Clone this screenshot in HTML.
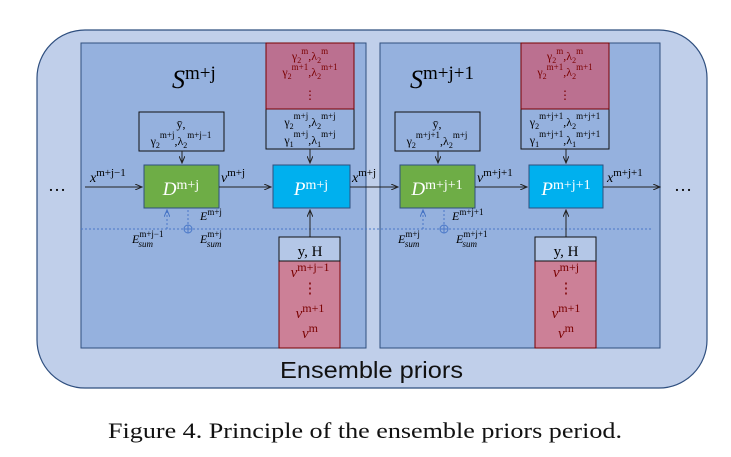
<!DOCTYPE html>
<html><head><meta charset="utf-8"><style>
body{margin:0;background:#fff;width:731px;height:457px;overflow:hidden}
svg{display:block;font-family:"Liberation Serif",serif}
.s{font-size:9px}.b{font-size:8px}
</style></head><body>
<svg width="731" height="457" viewBox="0 0 731 457">
<defs><marker id="a" markerWidth="8" markerHeight="6" refX="7" refY="3" orient="auto"><path d="M0,0 L7,3 L0,6" fill="none" stroke="#222" stroke-width="1"/></marker>
<marker id="b" markerWidth="8" markerHeight="6" refX="7" refY="3" orient="auto"><path d="M0,0 L7,3 L0,6" fill="none" stroke="#4472c4" stroke-width="1"/></marker></defs>
<rect x="37" y="30" width="670" height="358" rx="48" fill="#c0cfea" stroke="#2f4f7f" stroke-width="1.2"/>
<text x="280" y="378" font-family="Liberation Sans" font-size="23" textLength="183" lengthAdjust="spacingAndGlyphs" fill="#111">Ensemble priors</text>
<text x="108" y="438" font-size="22" textLength="514" lengthAdjust="spacingAndGlyphs" fill="#111">Figure 4. Principle of the ensemble priors period.</text>

<rect x="81" y="43" width="285" height="305" fill="#95b1de" stroke="#2f4f7f"/>
<rect x="380" y="43" width="280" height="305" fill="#95b1de" stroke="#2f4f7f"/>
<line x1="81" y1="229" x2="652" y2="229" stroke="#4a78c8" stroke-dasharray="2,2"/>

<text x="48" y="191" font-size="18">…</text>
<text x="674" y="191" font-size="18">…</text>

<text x="172" y="88" font-size="26" font-style="italic">S<tspan font-style="normal" font-size="19" dy="-9">m+j</tspan></text>
<text x="410" y="88" font-size="26" font-style="italic">S<tspan font-style="normal" font-size="19" dy="-9">m+j+1</tspan></text>

<rect x="139" y="112" width="85" height="39" fill="#95b1de" stroke="#111"/>
<text x="181" y="128" font-size="12" text-anchor="middle">ȳ,</text>
<text x="181" y="145" font-size="12" text-anchor="middle">γ<tspan class="b" dy="3">2</tspan><tspan class="s" dy="-10">m+j</tspan><tspan dy="7">,λ</tspan><tspan class="b" dy="3">2</tspan><tspan class="s" dy="-10">m+j−1</tspan></text>
<rect x="395" y="112" width="85" height="39" fill="#95b1de" stroke="#111"/>
<text x="437" y="128" font-size="12" text-anchor="middle">ȳ,</text>
<text x="437" y="145" font-size="12" text-anchor="middle">γ<tspan class="b" dy="3">2</tspan><tspan class="s" dy="-10">m+j+1</tspan><tspan dy="7">,λ</tspan><tspan class="b" dy="3">2</tspan><tspan class="s" dy="-10">m+j</tspan></text>

<rect x="266" y="43" width="88" height="106" fill="#95b1de" stroke="#111"/>
<rect x="266" y="43" width="88" height="66" fill="#bb7090" stroke="#7a0000"/>
<g font-size="12" text-anchor="middle" fill="#7a0000">
<text x="310" y="60">γ<tspan class="b" dy="3">2</tspan><tspan class="s" dy="-9">m</tspan><tspan dy="6">,λ</tspan><tspan class="b" dy="3">2</tspan><tspan class="s" dy="-9">m</tspan></text>
<text x="310" y="76">γ<tspan class="b" dy="3">2</tspan><tspan class="s" dy="-9">m+1</tspan><tspan dy="6">,λ</tspan><tspan class="b" dy="3">2</tspan><tspan class="s" dy="-9">m+1</tspan></text>
<text x="310" y="99">⋮</text>
</g>
<g font-size="12" text-anchor="middle">
<text x="310" y="126">γ<tspan class="b" dy="3">2</tspan><tspan class="s" dy="-10">m+j</tspan><tspan dy="7">,λ</tspan><tspan class="b" dy="3">2</tspan><tspan class="s" dy="-10">m+j</tspan></text>
<text x="310" y="144">γ<tspan class="b" dy="3">1</tspan><tspan class="s" dy="-10">m+j</tspan><tspan dy="7">,λ</tspan><tspan class="b" dy="3">1</tspan><tspan class="s" dy="-10">m+j</tspan></text>
</g>
<rect x="521" y="43" width="88" height="106" fill="#95b1de" stroke="#111"/>
<rect x="521" y="43" width="88" height="66" fill="#bb7090" stroke="#7a0000"/>
<g font-size="12" text-anchor="middle" fill="#7a0000">
<text x="565" y="60">γ<tspan class="b" dy="3">2</tspan><tspan class="s" dy="-9">m</tspan><tspan dy="6">,λ</tspan><tspan class="b" dy="3">2</tspan><tspan class="s" dy="-9">m</tspan></text>
<text x="565" y="76">γ<tspan class="b" dy="3">2</tspan><tspan class="s" dy="-9">m+1</tspan><tspan dy="6">,λ</tspan><tspan class="b" dy="3">2</tspan><tspan class="s" dy="-9">m+1</tspan></text>
<text x="565" y="99">⋮</text>
</g>
<g font-size="12" text-anchor="middle">
<text x="565" y="126">γ<tspan class="b" dy="3">2</tspan><tspan class="s" dy="-10">m+j+1</tspan><tspan dy="7">,λ</tspan><tspan class="b" dy="3">2</tspan><tspan class="s" dy="-10">m+j+1</tspan></text>
<text x="565" y="144">γ<tspan class="b" dy="3">1</tspan><tspan class="s" dy="-10">m+j+1</tspan><tspan dy="7">,λ</tspan><tspan class="b" dy="3">1</tspan><tspan class="s" dy="-10">m+j+1</tspan></text>
</g>

<rect x="144" y="165" width="75" height="43" fill="#6ead46" stroke="#2f4f7f"/>
<text x="181" y="195" font-size="19" fill="#fff" text-anchor="middle"><tspan font-style="italic">D</tspan><tspan font-size="14" dy="-6">m+j</tspan></text>
<rect x="273" y="165" width="77" height="43" fill="#00b0ee" stroke="#2f4f7f"/>
<text x="311" y="195" font-size="19" fill="#fff" text-anchor="middle"><tspan font-style="italic">P</tspan><tspan font-size="14" dy="-6">m+j</tspan></text>
<rect x="400" y="165" width="75" height="43" fill="#6ead46" stroke="#2f4f7f"/>
<text x="437" y="195" font-size="19" fill="#fff" text-anchor="middle"><tspan font-style="italic">D</tspan><tspan font-size="14" dy="-6">m+j+1</tspan></text>
<rect x="529" y="165" width="74" height="43" fill="#00b0ee" stroke="#2f4f7f"/>
<text x="566" y="195" font-size="19" fill="#fff" text-anchor="middle"><tspan font-style="italic">P</tspan><tspan font-size="14" dy="-6">m+j+1</tspan></text>

<g stroke="#222" stroke-width="1" marker-end="url(#a)">
<line x1="85" y1="187" x2="142" y2="187"/><line x1="219" y1="187" x2="271" y2="187"/>
<line x1="350" y1="187" x2="398" y2="187"/><line x1="475" y1="187" x2="527" y2="187"/>
<line x1="603" y1="187" x2="660" y2="187"/>
<line x1="182" y1="151" x2="182" y2="163"/><line x1="310" y1="149" x2="310" y2="163"/>
<line x1="438" y1="151" x2="438" y2="163"/><line x1="566" y1="149" x2="566" y2="163"/>
<line x1="310" y1="237" x2="310" y2="210"/><line x1="566" y1="237" x2="566" y2="210"/>
</g>
<g font-size="14">
<text x="90" y="182" font-style="italic">x<tspan font-style="normal" font-size="11" dy="-6">m+j−1</tspan></text>
<text x="221" y="182" font-style="italic">v<tspan font-style="normal" font-size="11" dy="-6">m+j</tspan></text>
<text x="352" y="182" font-style="italic">x<tspan font-style="normal" font-size="11" dy="-6">m+j</tspan></text>
<text x="477" y="182" font-style="italic">v<tspan font-style="normal" font-size="11" dy="-6">m+j+1</tspan></text>
<text x="607" y="182" font-style="italic">x<tspan font-style="normal" font-size="11" dy="-6">m+j+1</tspan></text>
</g>
<g stroke="#4a78c8" stroke-dasharray="2,2" stroke-width="1">
<line x1="167" y1="229" x2="167" y2="210" marker-end="url(#b)"/><line x1="188" y1="210" x2="188" y2="225"/>
<line x1="423" y1="229" x2="423" y2="210" marker-end="url(#b)"/><line x1="444" y1="210" x2="444" y2="225"/>
</g>
<g fill="none" stroke="#4a78c8"><circle cx="188" cy="229" r="4"/><path d="M184,229h8M188,225v8"/><circle cx="444" cy="229" r="4"/><path d="M440,229h8M444,225v8"/></g>
<g font-size="12" font-style="italic">
<text x="132" y="243">E<tspan font-style="normal" font-size="9" dy="-6">m+j−1</tspan><tspan font-size="9" dx="-25" dy="10">sum</tspan></text>
<text x="200" y="220">E<tspan font-style="normal" font-size="9" dy="-5">m+j</tspan></text>
<text x="200" y="243">E<tspan font-style="normal" font-size="9" dy="-6">m+j</tspan><tspan font-size="9" dx="-15" dy="10">sum</tspan></text>
<text x="398" y="243">E<tspan font-style="normal" font-size="9" dy="-6">m+j</tspan><tspan font-size="9" dx="-15" dy="10">sum</tspan></text>
<text x="452" y="220">E<tspan font-style="normal" font-size="9" dy="-5">m+j+1</tspan></text>
<text x="456" y="243">E<tspan font-style="normal" font-size="9" dy="-6">m+j+1</tspan><tspan font-size="9" dx="-25" dy="10">sum</tspan></text>
</g>

<rect x="279" y="237" width="61" height="111" fill="#cc8097" stroke="#7a0000"/>
<rect x="279" y="237" width="61" height="24" fill="#b4c7e7" stroke="#111"/>
<text x="310" y="256" font-size="15" text-anchor="middle">y, H</text>
<g font-size="15" fill="#7a0000" text-anchor="middle">
<text x="310" y="277" font-style="italic">v<tspan font-style="normal" font-size="12" dy="-6">m+j−1</tspan></text>
<text x="310" y="293">⋮</text>
<text x="310" y="318" font-style="italic">v<tspan font-style="normal" font-size="12" dy="-6">m+1</tspan></text>
<text x="310" y="338" font-style="italic">v<tspan font-style="normal" font-size="12" dy="-6">m</tspan></text>
</g>
<rect x="535" y="237" width="61" height="111" fill="#cc8097" stroke="#7a0000"/>
<rect x="535" y="237" width="61" height="24" fill="#b4c7e7" stroke="#111"/>
<text x="566" y="256" font-size="15" text-anchor="middle">y, H</text>
<g font-size="15" fill="#7a0000" text-anchor="middle">
<text x="566" y="277" font-style="italic">v<tspan font-style="normal" font-size="12" dy="-6">m+j</tspan></text>
<text x="566" y="293">⋮</text>
<text x="566" y="318" font-style="italic">v<tspan font-style="normal" font-size="12" dy="-6">m+1</tspan></text>
<text x="566" y="338" font-style="italic">v<tspan font-style="normal" font-size="12" dy="-6">m</tspan></text>
</g>
</svg>
</body></html>
